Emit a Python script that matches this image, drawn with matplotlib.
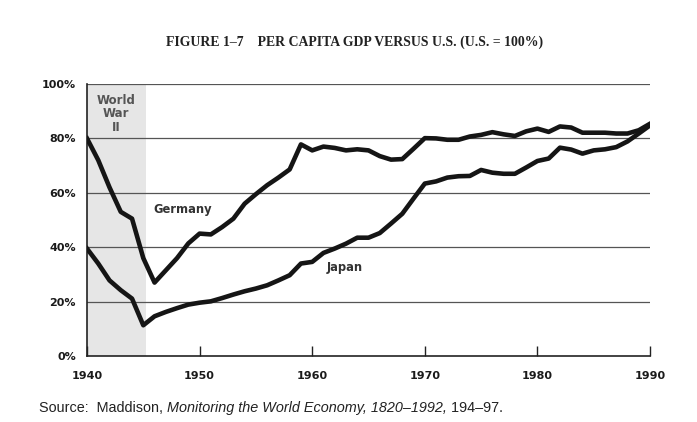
import matplotlib
matplotlib.use("Agg")
import matplotlib.pyplot as plt

years = list(range(1940, 1991))
germany = [80, 72, 62, 53, 50.5, 36, 27, 31.5, 36, 41.4, 45, 44.7, 47.4, 50.5, 56, 59.5,
           62.8, 65.6, 68.6, 77.8, 75.6, 77, 76.5, 75.6, 76, 75.6, 73.5, 72.2, 72.4, 76.2,
           80.1, 80, 79.5, 79.5, 80.7, 81.3, 82.3, 81.5, 80.9, 82.6, 83.6, 82.4, 84.4, 84,
           82.1, 82.1, 82.1, 81.8, 81.8, 83, 85.4]
japan = [39.5, 34, 27.8, 24.2, 21.1, 11.3, 14.6, 16.2, 17.6, 18.9, 19.6, 20.1, 21.3, 22.6,
         23.8, 24.8, 26, 27.8, 29.7, 34, 34.6, 37.9, 39.5, 41.3, 43.5, 43.5, 45.2, 48.7,
         52.3, 57.9, 63.4, 64.2, 65.6, 66.1, 66.2, 68.4, 67.4, 67, 67, 69.3, 71.7, 72.6,
         76.6, 75.9, 74.4, 75.6, 76, 76.8, 78.9, 81.8, 84.8]
xticks = [1940, 1950, 1960, 1970, 1980, 1990]
yticks = [0, 20, 40, 60, 80, 100]
ytick_labels = ["0%", "20%", "40%", "60%", "80%", "100%"]
war_span = (1940, 1945.2)

fig = plt.figure(figsize=(6.97, 4.22), dpi=100)
fig.patch.set_facecolor("white")
ax = fig.add_axes([0.1248, 0.1564, 0.8078, 0.6445])

ax.axvspan(*war_span, color="#e6e6e6", zorder=0, lw=0)
for y in yticks[1:]:
    ax.axhline(y, color="#555555", lw=0.9, zorder=1)

ax.plot(years, germany, color="#151515", lw=3.3, solid_joinstyle="round", zorder=3)
ax.plot(years, japan, color="#151515", lw=3.3, solid_joinstyle="round", zorder=3)

ax.set_xlim(1940, 1990)
ax.set_ylim(0, 100)
ax.set_xticks(xticks)
ax.set_xticklabels([str(x) for x in xticks], fontweight="bold", fontsize=8,
                   family="DejaVu Sans", color="#1a1a1a")
ax.set_yticks(yticks)
ax.set_yticklabels(ytick_labels, fontweight="bold", fontsize=8, family="DejaVu Sans",
                   color="#1a1a1a")
ax.tick_params(axis="x", direction="in", length=7, width=1, color="#222222", pad=11)
ax.tick_params(axis="y", direction="out", length=0, pad=8)
for s in ["top", "right"]:
    ax.spines[s].set_visible(False)
for s in ["left", "bottom"]:
    ax.spines[s].set_color("#222222")
    ax.spines[s].set_linewidth(1.2)

ax.text(1942.6, 96.5, "World\nWar\nII", ha="center", va="top", fontsize=8.5,
        fontweight="bold", color="#555555", family="DejaVu Sans", linespacing=1.08)
ax.text(1948.5, 54, "Germany", ha="center", va="center", fontsize=8.3,
        fontweight="bold", color="#333333", family="DejaVu Sans")
ax.text(1962.9, 32.5, "Japan", ha="center", va="center", fontsize=8.3,
        fontweight="bold", color="#333333", family="DejaVu Sans")

fig.text(0.508, 0.9, "FIGURE 1\u20137    PER CAPITA GDP VERSUS U.S. (U.S. = 100%)",
         ha="center", va="center", fontsize=9.9, fontweight="bold",
         family="Liberation Serif", color="#222222")

# Source line with mixed italic
pieces = [("Source:  Maddison, ", "normal"),
          ("Monitoring the World Economy, 1820\u20131992,", "italic"),
          (" 194\u201397.", "normal")]
fig.canvas.draw()
renderer = fig.canvas.get_renderer()
x0 = 39 / 697
ypos = 1 - 408 / 422
for txt, style in pieces:
    t = fig.text(x0, ypos, txt, ha="left", va="center", fontsize=10.4, style=style,
                 family="Liberation Sans", color="#222222")
    bb = t.get_window_extent(renderer=renderer)
    x0 += bb.width / fig.bbox.width

fig.savefig("out.png", dpi=100, facecolor="white")
